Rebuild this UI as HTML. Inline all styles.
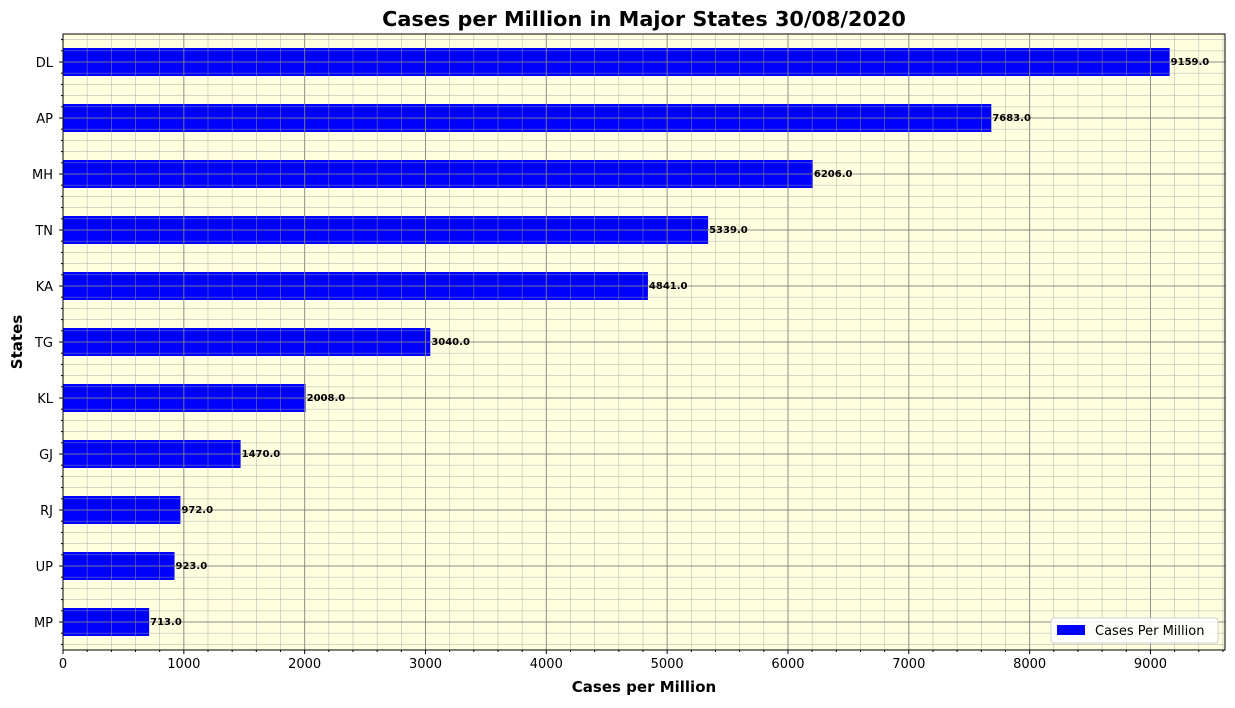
<!DOCTYPE html>
<html><head><meta charset="utf-8"><style>
body{margin:0;background:#fff;font-family:"DejaVu Sans","Liberation Sans",sans-serif;}
</style></head><body>
<svg id="chart" width="1235" height="704" xmlns="http://www.w3.org/2000/svg" font-family="DejaVu Sans, Liberation Sans, sans-serif"></svg>
<script>
const states = ["MP","UP","RJ","GJ","KL","TG","KA","TN","MH","AP","DL"];
const values = [713,923,972,1470,2008,3040,4841,5339,6206,7683,9159];
const xTicks = [0,1000,2000,3000,4000,5000,6000,7000,8000,9000];

const svg = document.getElementById('chart');
const NS = 'http://www.w3.org/2000/svg';
const L = 63, R = 1225, T = 34, B = 650;
const xMax = Math.max(...values) * 1.05;
const yMin = -0.5, yMax = states.length - 0.5;
const xs = v => L + v / xMax * (R - L);
const ys = i => T + (yMax - i) / (yMax - yMin) * (B - T);
function mk(tag, attrs, parent){const e=document.createElementNS(NS,tag);for(const k in attrs)e.setAttribute(k,attrs[k]);(parent||svg).appendChild(e);return e;}

const bg = mk('rect',{x:L,y:T,width:R-L,height:B-T,fill:'#ffffe0'});



values.forEach((v,i)=>{
  const r = mk('rect',{x:xs(0),y:ys(i)-14,width:xs(v)-xs(0),height:28,fill:'#0000ff'});
  
  
});

const grid = mk('g',{});


for(let v=0; v<=xMax; v+=200){
  const major = v%1000===0;
  mk('line',{x1:xs(v),x2:xs(v),y1:T,y2:B,stroke:major?'#808080':'#a0a0a0','stroke-width':major?1:0.6,'stroke-opacity':major?0.9:0.7},grid);
  mk('line',{x1:xs(v),x2:xs(v),y1:B,y2:B+(major?4:2),stroke:'#000','stroke-width':1});
}
for(let k=Math.ceil(yMin*5); k<=Math.floor(yMax*5); k++){
  const y = ys(k/5); const major = k%5===0;
  mk('line',{x1:L,x2:R,y1:y,y2:y,stroke:major?'#808080':'#a0a0a0','stroke-width':major?1:0.6,'stroke-opacity':major?0.9:0.7},grid);
  mk('line',{x1:L-(major?4:2),x2:L,y1:y,y2:y,stroke:'#000','stroke-width':1});
}

values.forEach((v,i)=>{
  const t = mk('text',{x:xs(v)+1,y:ys(i)+3,'font-size':10,'font-weight':'bold',fill:'#000'});
  t.textContent = v.toFixed(1);
  
  
});

mk('rect',{x:L,y:T,width:R-L,height:B-T,fill:'none',stroke:'#000','stroke-width':1});

xTicks.forEach(v=>{
  const t = mk('text',{x:xs(v),y:B+18,'font-size':13,'text-anchor':'middle',fill:'#000'});
  t.textContent = v;
  
  
});
states.forEach((s,i)=>{
  const t = mk('text',{x:L-10,y:ys(i)+5,'font-size':13,'text-anchor':'end',fill:'#000'});
  t.textContent = s;
  
  
});

const title = mk('text',{x:644,y:26,'font-size':20.8,'font-weight':'bold','text-anchor':'middle'});
title.textContent = 'Cases per Million in Major States 30/08/2020';


const xt = mk('text',{x:(L+R)/2,y:692,'font-size':15,'font-weight':'bold','text-anchor':'middle'});
xt.textContent = 'Cases per Million';


const yt = mk('text',{x:0,y:0,'font-size':15,'font-weight':'bold','text-anchor':'middle',transform:`translate(22,${(T+B)/2}) rotate(-90)`});
yt.textContent = 'States';



const lg = mk('g',{});


mk('rect',{x:1051,y:618,width:167,height:25,rx:3,fill:'#ffffff','fill-opacity':0.85,stroke:'#d0d0d0'},lg);
mk('rect',{x:1057,y:625,width:28,height:10,fill:'#0000ff'},lg);
const lt = mk('text',{x:1095,y:635,'font-size':13},lg);
lt.textContent = 'Cases Per Million';


</script>
</body></html>
